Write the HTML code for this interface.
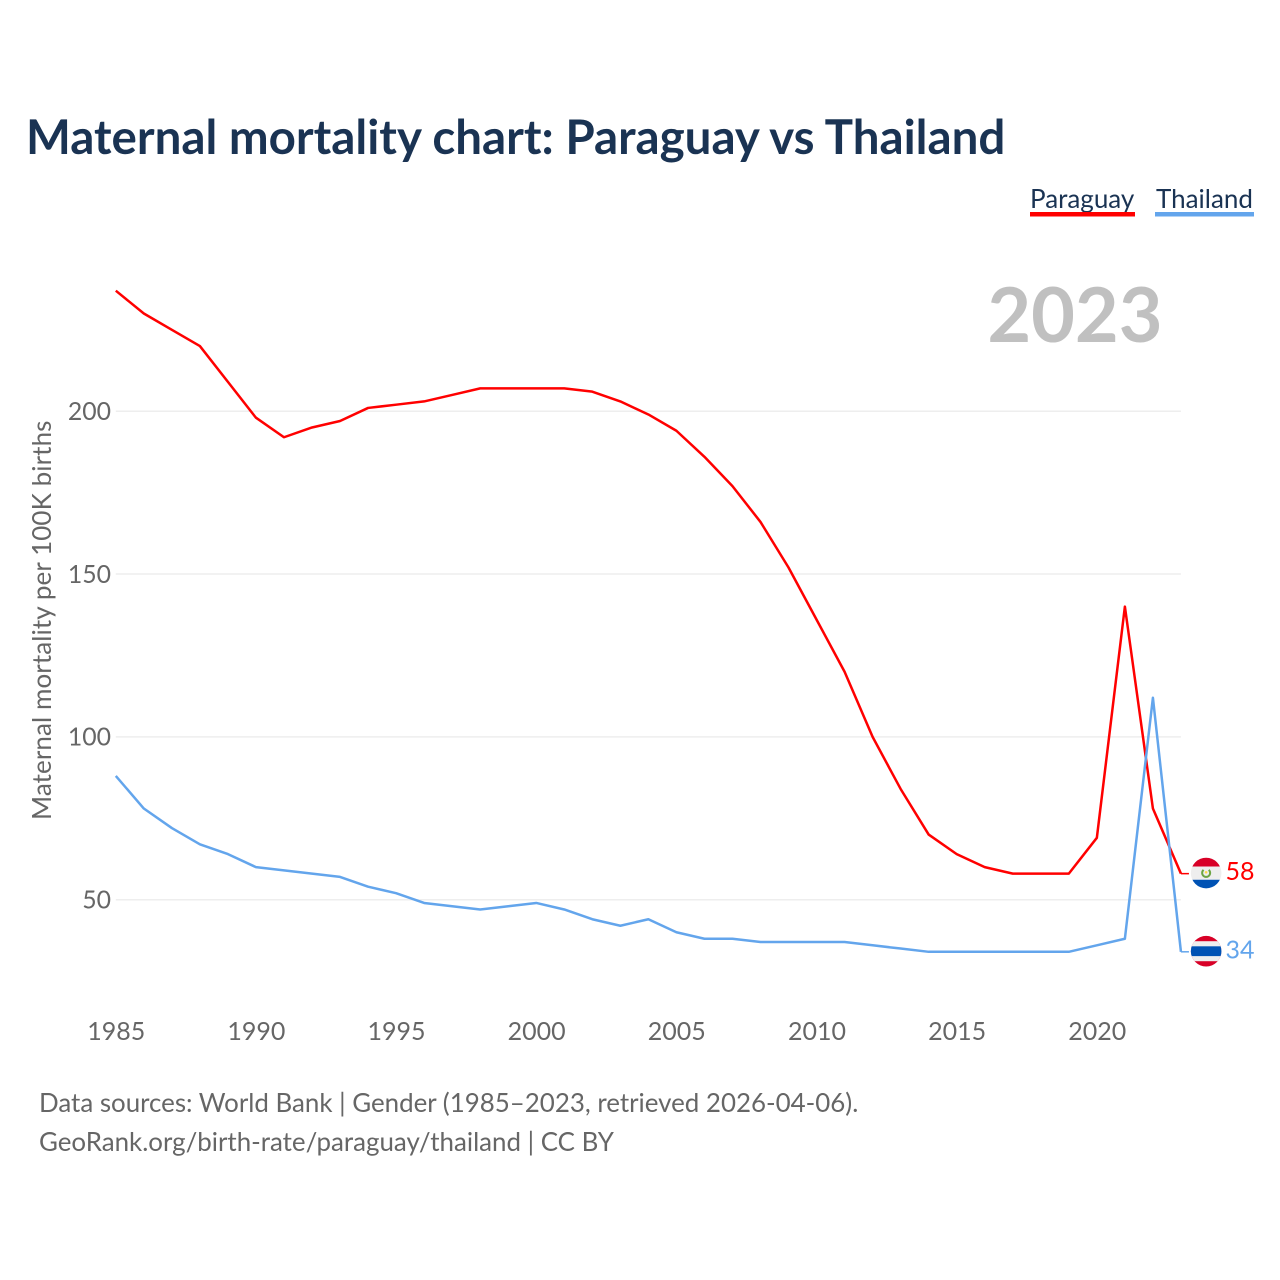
<!DOCTYPE html>
<html lang="en">
<head>
<meta charset="utf-8">
<title>Maternal mortality chart: Paraguay vs Thailand</title>
<style>
html,body{margin:0;padding:0;background:#fff;width:1280px;height:1280px;overflow:hidden}
svg{display:block}
text{font-family:"Lato","Carlito","Liberation Sans",sans-serif}
</style>
</head>
<body>
<svg id="chart" width="1280" height="1280" viewBox="0 0 1280 1280" xmlns="http://www.w3.org/2000/svg">
  <defs>
    <clipPath id="flag-clip-py"><circle id="clip-py" r="15.3"></circle></clipPath>
    <clipPath id="flag-clip-th"><circle id="clip-th" r="15.3"></circle></clipPath>
  </defs>
  <text x="26" y="154" font-size="47.5" font-weight="700" fill="#1a3353">Maternal mortality chart: Paraguay vs Thailand</text>

  <g>
    <text x="1030" y="208" font-size="26" fill="#1a3353">Paraguay</text>
    <rect x="1030" y="212" width="105" height="4.5" fill="#ff0000"></rect>
  </g>
  <g>
    <text x="1156" y="208" font-size="26" fill="#1a3353">Thailand</text>
    <rect x="1155" y="212" width="99" height="4.5" fill="#63a5ec"></rect>
  </g>

  <text x="1162.5" y="342" text-anchor="end" font-size="75.5" font-weight="700" fill="#c0c0c0">2023</text>

  <text transform="translate(51 820) rotate(-90)" font-size="26" letter-spacing="0.09" fill="#666666">Maternal mortality per 100K births</text>

  <g id="grid"></g>
  <g id="y-ticks"></g>
  <g id="x-ticks"></g>
  <g id="series"></g>

  <g id="end-py">
    <path id="conn-py" fill="none" stroke="#ff0000" stroke-width="1.5"></path>
    <g clip-path="url(#flag-clip-py)">
      <g id="flag-py">
        <rect x="-16" y="-16" width="32" height="9.5" fill="#d80027"></rect>
        <rect x="-16" y="-6.5" width="32" height="13.2" fill="#eeeeee"></rect>
        <rect x="-16" y="6.7" width="32" height="9.3" fill="#0052b4"></rect>
        <path d="M-2.6 -3.2 A4 4 0 1 0 2.6 -3.2" fill="none" stroke="#6da544" stroke-width="2"></path>
        <circle r="1.3" cy="-0.8" fill="#ffda44"></circle>
      </g>
    </g>
    <text id="val-py" font-size="25" fill="#ff0000"></text>
  </g>
  <g id="end-th">
    <path id="conn-th" fill="none" stroke="#63a5ec" stroke-width="1.5"></path>
    <g clip-path="url(#flag-clip-th)">
      <g id="flag-th">
        <rect x="-16" y="-16" width="32" height="32" fill="#d80027"></rect>
        <rect x="-16" y="-10" width="32" height="20" fill="#eeeeee"></rect>
        <rect x="-16" y="-4.9" width="32" height="9.8" fill="#0052b4"></rect>
      </g>
    </g>
    <text id="val-th" font-size="25" fill="#63a5ec"></text>
  </g>

  <text x="39" y="1112" font-size="25.9" fill="#666666">Data sources: World Bank | Gender (1985–2023, retrieved 2026-04-06).</text>
  <text x="39" y="1151" font-size="25.9" fill="#666666">GeoRank.org/birth-rate/paraguay/thailand | CC BY</text>
</svg>
<script>
var years = [1985,1986,1987,1988,1989,1990,1991,1992,1993,1994,1995,1996,1997,1998,1999,2000,2001,2002,2003,2004,2005,2006,2007,2008,2009,2010,2011,2012,2013,2014,2015,2016,2017,2018,2019,2020,2021,2022,2023];
var paraguay = [237,230,225,220,209,198,192,195,197,201,202,203,205,207,207,207,207,206,203,199,194,186,177,166,152,136,120,100,84,70,64,60,58,58,58,69,140,78,58];
var thailand = [88,78,72,67,64,60,59,58,57,54,52,49,48,47,48,49,47,44,42,44,40,38,38,37,37,37,37,36,35,34,34,34,34,34,34,36,38,112,34];
var yTickValues = [50,100,150,200];
var xTickValues = [1985,1990,1995,2000,2005,2010,2015,2020];

var NS = 'http://www.w3.org/2000/svg';
function xScale(year){ return 115.8 + (year - 1985) * 28.03; }
function yScale(v){ return 899.7 - (v - 50) * 3.2567; }
function make(tag, attrs, parent){
  var el = document.createElementNS(NS, tag);
  for (var k in attrs) el.setAttribute(k, attrs[k]);
  parent.appendChild(el);
  return el;
}

var gridG = document.getElementById('grid');
var yG = document.getElementById('y-ticks');
yTickValues.forEach(function(v){
  var gl = make('line', {x1: xScale(1985), x2: xScale(2023), y1: yScale(v), y2: yScale(v), stroke: '#eeeeee', 'stroke-width': 1.5}, gridG);
  
  
  var t = make('text', {x: 111, y: yScale(v) + 8.8, 'text-anchor': 'end', 'font-size': 24.8, fill: '#666666'}, yG);
  
  
  t.textContent = v;
});

var xG = document.getElementById('x-ticks');
xTickValues.forEach(function(y){
  var t = make('text', {x: xScale(y) + 0.4, y: 1040, 'text-anchor': 'middle', 'font-size': 25, fill: '#666666'}, xG);
  
  
  t.textContent = y;
});

function pathFor(values){
  return values.map(function(v, i){
    return (i ? 'L' : 'M') + xScale(years[i]).toFixed(2) + ' ' + yScale(v).toFixed(2);
  }).join(' ');
}
var sG = document.getElementById('series');
var lineParaguay = make('path', {d: pathFor(paraguay), fill: 'none', stroke: '#ff0000', 'stroke-width': 2.5, 'stroke-linejoin': 'round'}, sG);


var lineThailand = make('path', {d: pathFor(thailand), fill: 'none', stroke: '#63a5ec', 'stroke-width': 2.5, 'stroke-linejoin': 'round'}, sG);



function placeEnd(key, values){
  var last = values[values.length - 1];
  var ex = xScale(years[years.length - 1]);
  var ey = yScale(last);
  document.getElementById('conn-' + key).setAttribute('d', 'M' + ex + ' ' + ey + ' H' + (ex + 8));
  var cx = ex + 25.2;
  var cy = ey - 0.6;
  var c = document.getElementById('clip-' + key);
  c.setAttribute('cx', cx);
  c.setAttribute('cy', cy);
  document.getElementById('flag-' + key).setAttribute('transform', 'translate(' + cx + ' ' + cy + ')');
  var t = document.getElementById('val-' + key);
  t.setAttribute('x', ex + 44.5);
  t.setAttribute('y', ey + 6.5);
  t.textContent = last;
}
placeEnd('py', paraguay);
placeEnd('th', thailand);
</script>
</body>
</html>
